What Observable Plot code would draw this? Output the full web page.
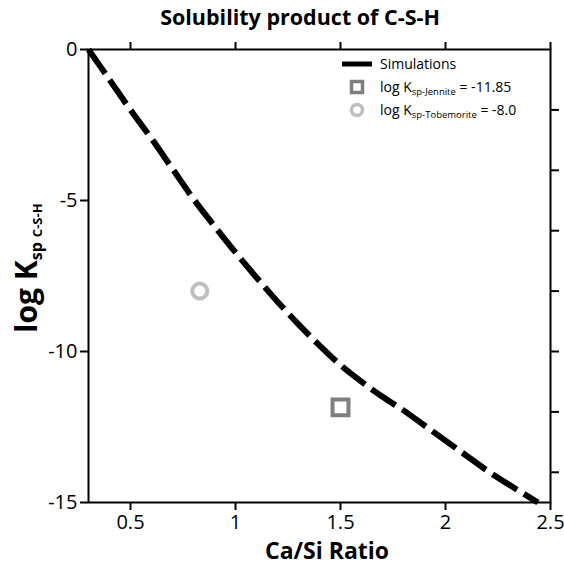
<!DOCTYPE html>
<html><head><meta charset="utf-8">
<script src="https://cdn.jsdelivr.net/npm/d3@7"></script>
<script src="https://cdn.jsdelivr.net/npm/@observablehq/plot@0.6"></script>
<style>
body{margin:0;background:#fff}
#chart svg{display:block}
</style>
</head><body><div id="chart"></div>
<script>
// Simulation curve (Ca/Si ratio vs log Ksp)
const simCaSi = [0.30, 0.40, 0.50, 0.60, 0.70, 0.80, 0.90, 1.00, 1.10, 1.20, 1.30, 1.40, 1.50, 1.60, 1.70, 1.80, 1.90, 2.00, 2.10, 2.20, 2.30, 2.44];
const simLogK = [0.0, -1.0, -2.0, -2.95, -3.95, -4.95, -5.85, -6.72, -7.55, -8.35, -9.1, -9.8, -10.45, -11.0, -11.5, -11.95, -12.45, -12.95, -13.45, -13.95, -14.4, -15.0];
// Reference phases
const phaseNames = ["Jennite", "Tobemorite"];
const phaseCaSi = [1.5, 0.83];
const phaseLogK = [-11.85, -8.0];
// Axis ticks
const xTicks = [0.5, 1, 1.5, 2, 2.5];
const yTicksLeft = [0, -5, -10, -15];
const yTicksRight = [-2, -4, -6, -8, -10, -12, -14];

const sim = simCaSi.map((x, i) => ({x, y: simLogK[i]}));
const jen = [{x: phaseCaSi[0], y: phaseLogK[0]}];
const tob = [{x: phaseCaSi[1], y: phaseLogK[1]}];

const ff = "'Open Sans', 'DejaVu Sans', sans-serif";
const W = 564, H = 568;
const plot = Plot.plot({
  width: W, height: H,
  marginLeft: 88, marginRight: 14, marginTop: 49, marginBottom: 66,
  x: {domain: [0.3, 2.5]},
  y: {domain: [-15, 0]},
  style: {fontSize: "20px", fontFamily: ff, color: "#000", background: "#fff"},
  marks: [
    Plot.line(sim, {x: "x", y: "y", stroke: "#000", strokeWidth: 6, strokeDasharray: "29,8", strokeLinecap: "butt", curve: "catmull-rom"}),
    Plot.dot(jen, {x: "x", y: "y", symbol: "square", r: 9, stroke: "#7f7f7f", strokeWidth: 4, fill: "none"}),
    Plot.dot(tob, {x: "x", y: "y", symbol: "circle", r: 7.5, stroke: "#bfbfbf", strokeWidth: 4, fill: "none"}),
    Plot.axisX({anchor: "bottom", ticks: xTicks, tickSize: 8, tickPadding: 4, tickFormat: d => String(d), label: null, strokeWidth: 2, fontSize: 20}),
    Plot.axisX({anchor: "top", ticks: xTicks, tickSize: 8, tickFormat: () => "", label: null, strokeWidth: 2}),
    Plot.axisY({anchor: "left", ticks: yTicksLeft, tickSize: 8, tickPadding: 3, tickFormat: d => String(d), label: null, strokeWidth: 2, fontSize: 20}),
    Plot.axisY({anchor: "right", ticks: yTicksRight, tickSize: 8, tickFormat: () => "", label: null, strokeWidth: 2}),
    Plot.frame({stroke: "#000", strokeWidth: 2})
  ]
});
document.getElementById("chart").appendChild(plot);

const svg = d3.select(plot);
// Title
svg.append("text").attr("x", 300).attr("y", 25).attr("text-anchor", "middle")
  .attr("font-family", ff).attr("font-weight", "bold").attr("font-size", 21.5).attr("fill", "#000")
  .text("Solubility product of C-S-H");
// X label
svg.append("text").attr("x", 327).attr("y", 559).attr("text-anchor", "middle")
  .attr("font-family", ff).attr("font-weight", "bold").attr("font-size", 23).attr("fill", "#000")
  .text("Ca/Si Ratio");
// Y label
const yl = svg.append("text").attr("transform", "translate(37,268) rotate(-90)").attr("text-anchor", "middle")
  .attr("font-family", ff).attr("font-weight", "bold").attr("font-size", 30).attr("fill", "#000");
yl.append("tspan").text("log K");
yl.append("tspan").attr("font-size", 16).attr("dy", 5).text("sp");
yl.append("tspan").attr("font-size", 13).attr("dx", 5).text("C-S-H");

// Legend
const lg = svg.append("g").attr("font-family", ff).attr("font-size", 14).attr("fill", "#000").attr("text-anchor", "start");
lg.append("line").attr("x1", 342).attr("x2", 372).attr("y1", 64).attr("y2", 64).attr("stroke", "#000").attr("stroke-width", 5);
lg.append("text").attr("x", 380).attr("y", 69).text("Simulations");
lg.append("rect").attr("x", 351.5).attr("y", 81.5).attr("width", 11).attr("height", 11).attr("fill", "none").attr("stroke", "#7f7f7f").attr("stroke-width", 3.5);
const t1 = lg.append("text").attr("x", 380).attr("y", 92);
t1.append("tspan").text("log K");
t1.append("tspan").attr("font-size", 9.5).attr("dy", 3).text("sp-" + phaseNames[0]);
t1.append("tspan").attr("dy", -3).text(" = " + phaseLogK[0]);
lg.append("circle").attr("cx", 357).attr("cy", 110).attr("r", 5.5).attr("fill", "none").attr("stroke", "#bfbfbf").attr("stroke-width", 3.5);
const t2 = lg.append("text").attr("x", 380).attr("y", 115);
t2.append("tspan").text("log K");
t2.append("tspan").attr("font-size", 9.5).attr("dy", 3).text("sp-" + phaseNames[1]);
t2.append("tspan").attr("dy", -3).text(" = " + phaseLogK[1].toFixed(1));
</script>
</body></html>
